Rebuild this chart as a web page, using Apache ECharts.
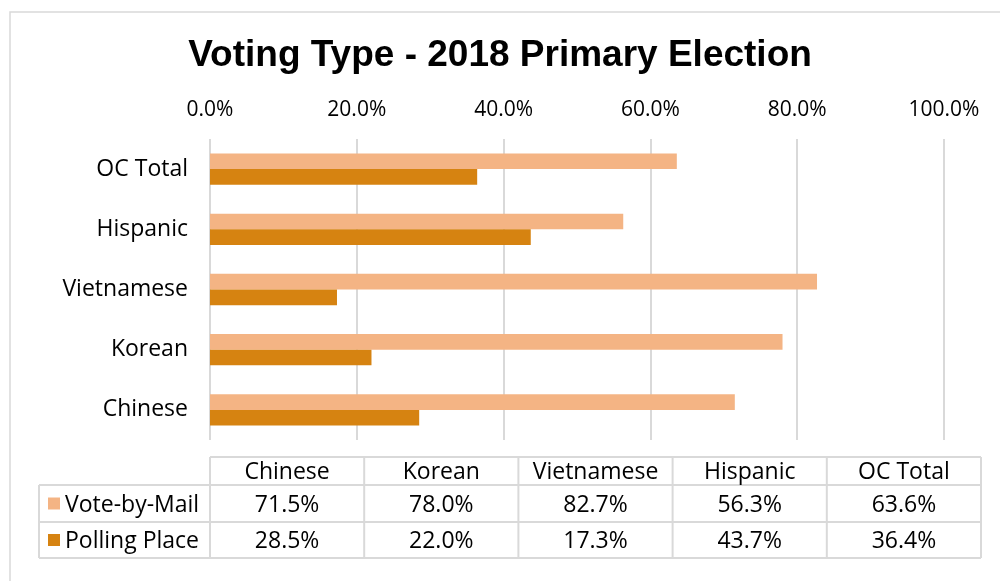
<!DOCTYPE html>
<html>
<head>
<meta charset="utf-8">
<script src="https://cdn.jsdelivr.net/npm/echarts@6/dist/echarts.min.js"></script>
<style>
  html, body { margin: 0; padding: 0; background: #fff; }
  #chart { width: 1000px; height: 581px; }
</style>
</head>
<body>
<div id="chart"></div>
<script>
// Voting type by community, 2018 primary election (share of ballots cast)
const categories = ['Chinese', 'Korean', 'Vietnamese', 'Hispanic', 'OC Total'];
const voteByMail = [71.5, 78.0, 82.7, 56.3, 63.6];
const pollingPlace = [28.5, 22.0, 17.3, 43.7, 36.4];
const seriesNames = ['Vote-by-Mail', 'Polling Place'];
const seriesValues = [voteByMail, pollingPlace];
const seriesColors = ['#F4B484', '#D68311'];

const FONT = '"Open Sans", "Noto Sans", sans-serif';
const pct = v => v.toFixed(1) + '%';

// Data table laid out beneath the plot
const table = {
  left: 39,
  firstCol: 210,
  colW: 154.2,
  rows: [457, 485, 522, 558],
  border: '#d9d9d9',
  textShift: 1.5
};

function buildTable() {
  const els = [];
  const n = categories.length;
  const lineStyle = { stroke: table.border, lineWidth: 2, fill: null };
  const right = table.firstCol + n * table.colW;
  const font = '23px ' + FONT;
  // horizontal rules
  els.push({ type: 'line', shape: { x1: table.firstCol, y1: table.rows[0], x2: right, y2: table.rows[0] }, style: lineStyle });
  for (let r = 1; r < table.rows.length; r++) {
    els.push({ type: 'line', shape: { x1: table.left, y1: table.rows[r], x2: right, y2: table.rows[r] }, style: lineStyle });
  }
  // vertical rules
  els.push({ type: 'line', shape: { x1: table.left, y1: table.rows[1], x2: table.left, y2: table.rows[3] }, style: lineStyle });
  for (let c = 0; c <= n; c++) {
    const x = table.firstCol + c * table.colW;
    els.push({ type: 'line', shape: { x1: x, y1: table.rows[0], x2: x, y2: table.rows[3] }, style: lineStyle });
  }
  // header cells
  categories.forEach((name, c) => {
    els.push({
      type: 'text',
      x: table.firstCol + (c + 0.5) * table.colW,
      y: (table.rows[0] + table.rows[1]) / 2 + table.textShift,
      style: { text: name, font, fill: '#000', textAlign: 'center', textVerticalAlign: 'middle' }
    });
  });
  // series rows with legend keys
  seriesNames.forEach((name, s) => {
    const yMid = (table.rows[s + 1] + table.rows[s + 2]) / 2;
    els.push({ type: 'rect', shape: { x: 48, y: yMid - 6, width: 12, height: 12 }, style: { fill: seriesColors[s] } });
    els.push({
      type: 'text', x: 65, y: yMid + table.textShift,
      style: { text: name, font, fill: '#000', textAlign: 'left', textVerticalAlign: 'middle' }
    });
    seriesValues[s].forEach((v, c) => {
      els.push({
        type: 'text',
        x: table.firstCol + (c + 0.5) * table.colW,
        y: yMid + table.textShift,
        style: { text: pct(v), font, fill: '#000', textAlign: 'center', textVerticalAlign: 'middle' }
      });
    });
  });
  return els;
}

const chart = echarts.init(document.getElementById('chart'), null, { renderer: 'canvas' });

const option = {
  backgroundColor: '#fff',
  animation: false,
  title: {
    text: 'Voting Type - 2018 Primary Election',
    left: 'center',
    top: 32,
    textStyle: { fontFamily: '"Liberation Sans", Arial, sans-serif', fontWeight: 'bold', fontSize: 37, color: '#000' }
  },
  grid: { left: 210, right: 56, top: 139, bottom: 141, containLabel: false },
  xAxis: {
    type: 'value',
    position: 'top',
    min: 0,
    max: 100,
    interval: 20,
    axisLine: { show: false },
    axisTick: { show: false },
    axisLabel: { formatter: pct, fontFamily: FONT, fontSize: 21, color: '#000', margin: 18 },
    splitLine: { show: true, lineStyle: { color: '#d9d9d9', width: 2 } }
  },
  yAxis: {
    type: 'category',
    data: categories,
    axisLine: { show: false },
    axisTick: { show: false },
    axisLabel: { fontFamily: FONT, fontSize: 23, color: '#000', margin: 22, padding: [8, 0, 0, 0] }
  },
  series: seriesNames.map((name, s) => ({
    name,
    type: 'bar',
    data: seriesValues[s],
    barGap: '0%',
    barCategoryGap: '48%',
    itemStyle: { color: seriesColors[s] }
  })),
  graphic: [
    { type: 'rect', shape: { x: 10, y: 12, width: 1000, height: 600 }, style: { fill: null, stroke: '#d9d9d9', lineWidth: 1.5 }, silent: true },
    ...buildTable()
  ]
};

chart.setOption(option);
</script>
</body>
</html>
